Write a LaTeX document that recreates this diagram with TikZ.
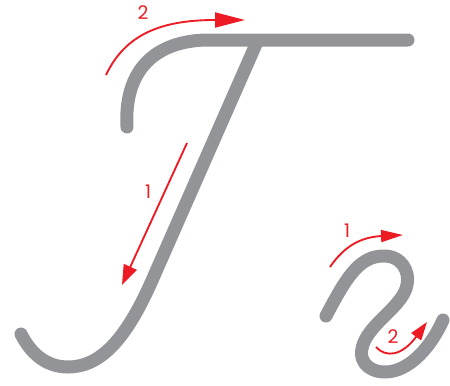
\documentclass[tikz,border=0pt]{standalone}
\usepackage{fontspec}
\setmainfont{Poppins}
\usetikzlibrary{arrows.meta}

\begin{document}
\begin{tikzpicture}[
  x=0.03cm, y=-0.03cm,
  stroke/.style={draw=letter, line width=0.39cm, line cap=round, line join=round},
  guide/.style={draw=guidered, line width=1.6pt},
  num/.style={text=guidered, font=\fontsize{16}{16}\selectfont, inner sep=0pt},
  >=Triangle
]
  \definecolor{letter}{RGB}{147,148,152}
  \definecolor{guidered}{RGB}{237,28,36}
  \useasboundingbox (0,0) rectangle (450,385);

  % capital letter
  \draw[stroke] (127,127) .. controls (124,75) and (150,42) .. (205,40) -- (408,40);
  \draw[stroke] (257,42) -- (150,285) .. controls (125,340) and (100,367) .. (68,367)
    .. controls (45,367) and (30,352) .. (21,334);

  % small letter
  \draw[stroke] (326,316) .. controls (345,280) and (358,257) .. (382,256)
    .. controls (402,255) and (410,272) .. (407,285)
    .. controls (403,305) and (375,320) .. (365,340)
    .. controls (355,360) and (368,372) .. (385,372)
    .. controls (410,372) and (432,345) .. (443,320);

  % guide arrows
  \draw[guide, -{Triangle[length=0.6cm, width=0.42cm]}] (187,143) -- (122,285);
  \draw[guide, -{Triangle[length=0.9cm, width=0.45cm]}] (106,75) .. controls (125,35) and (160,20) .. (215,20) -- (245,20);
  \draw[guide, -{Triangle[length=0.66cm, width=0.36cm]}] (330,267) .. controls (345,245) and (362,237) .. (382,236) -- (403,235);
  \draw[guide, -{Triangle[length=0.55cm, width=0.36cm]}] (376,347) .. controls (386,358) and (402,356) .. (427,322);

  \node[num] (big1) at (148,192) {1};
  \node[num] (big2) at (143,13) {2};
  \node[num] (small1) at (347,231) {1};
  \node[num] (small2) at (393,337) {2};
\end{tikzpicture}
\end{document}
